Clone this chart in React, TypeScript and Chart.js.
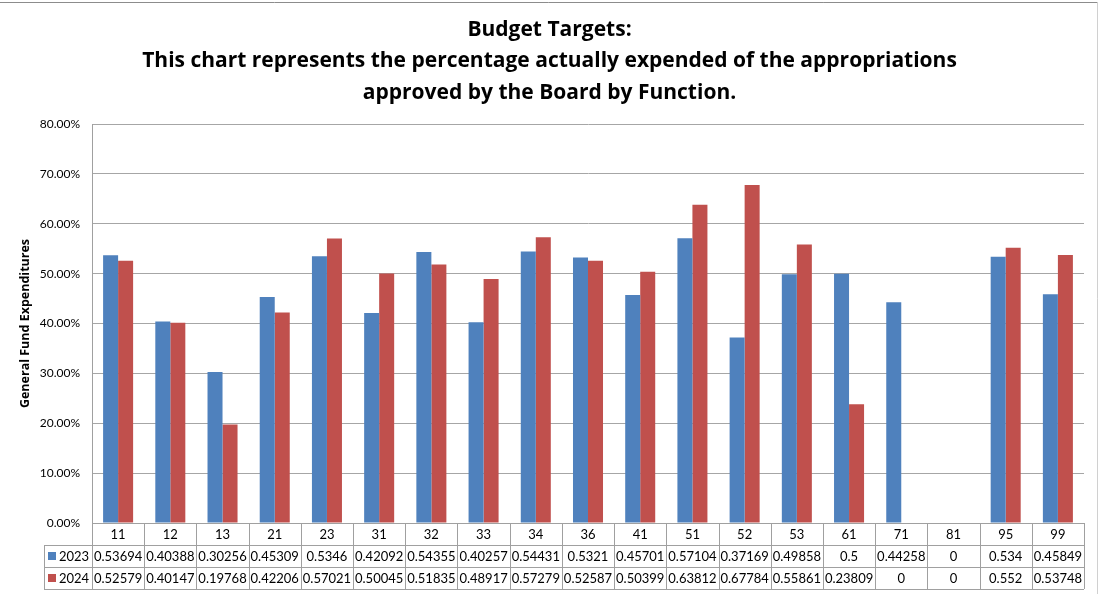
import React, { useEffect, useRef } from "react";
import { Chart, registerables } from "chart.js";

Chart.register(...registerables);

const categories = ["11", "12", "13", "21", "23", "31", "32", "33", "34", "36", "41", "51", "52", "53", "61", "71", "81", "95", "99"];
const values2023 = [0.53694, 0.40388, 0.30256, 0.45309, 0.5346, 0.42092, 0.54355, 0.40257, 0.54431, 0.5321, 0.45701, 0.57104, 0.37169, 0.49858, 0.5, 0.44258, 0, 0.534, 0.45849];
const values2024 = [0.52579, 0.40147, 0.19768, 0.42206, 0.57021, 0.50045, 0.51835, 0.48917, 0.57279, 0.52587, 0.50399, 0.63812, 0.67784, 0.55861, 0.23809, 0, 0, 0.552, 0.53748];
const seriesNames = ["2023", "2024"];
const seriesColors = ["#4F81BD", "#C0504D"];
const titleLines = [
  "Budget Targets:",
  "This chart represents the percentage actually expended of the appropriations",
  "approved by the Board by Function.",
];
const yAxisTitle = "General Fund Expenditures";

const FONT = "Lato, 'Open Sans', 'DejaVu Sans', sans-serif";
const TITLE_FONT = "'Open Sans', Lato, 'DejaVu Sans', sans-serif";

const decorPlugin = {
  id: "decor",
  beforeDraw(chart: any) {
    const { ctx, width } = chart;
    ctx.save();
    ctx.fillStyle = "#ffffff";
    ctx.fillRect(0, 0, chart.width, chart.height);
    // frame
    ctx.strokeStyle = "#8c8c8c";
    ctx.lineWidth = 1;
    ctx.beginPath();
    ctx.moveTo(0, 2.5);
    ctx.lineTo(width - 1.5, 2.5);
    ctx.stroke();
    ctx.strokeStyle = "#d0d0d0";
    ctx.beginPath();
    ctx.moveTo(width - 1.5, 2.5);
    ctx.lineTo(width - 1.5, chart.height);
    ctx.stroke();
    // title
    ctx.fillStyle = "#000000";
    ctx.font = `bold 21px ${TITLE_FONT}`;
    ctx.textAlign = "center";
    ctx.textBaseline = "middle";
    const ys = [30, 61.5, 93];
    titleLines.forEach((t, i) => ctx.fillText(t, width / 2, ys[i]));
    ctx.restore();
  },
  afterDraw(chart: any) {
    const { ctx, chartArea } = chart;
    const n = categories.length;
    const left = chartArea.left;
    const right = chartArea.right;
    const colW = (right - left) / n;
    const top = chartArea.bottom;
    const rowH = 22;
    const headW = 48;
    ctx.save();
    ctx.strokeStyle = "#a0a0a0";
    ctx.lineWidth = 1;
    ctx.beginPath();
    for (let k = 1; k <= 3; k++) {
      const y = Math.round(top + k * rowH) + 0.5;
      ctx.moveTo(left - headW, y);
      ctx.lineTo(right, y);
    }
    for (let i = 0; i <= n; i++) {
      const x = Math.round(left + i * colW) + 0.5;
      ctx.moveTo(x, top);
      ctx.lineTo(x, top + 3 * rowH);
    }
    const hx = Math.round(left - headW) + 0.5;
    ctx.moveTo(hx, top + rowH);
    ctx.lineTo(hx, top + 3 * rowH);
    ctx.stroke();

    ctx.fillStyle = "#000000";
    ctx.font = `13px ${FONT}`;
    ctx.textAlign = "center";
    ctx.textBaseline = "middle";
    const rows = [values2023, values2024];
    for (let i = 0; i < n; i++) {
      const cx = left + (i + 0.5) * colW;
      ctx.fillText(categories[i], cx, top + rowH / 2 + 1);
      rows.forEach((r, k) => {
        ctx.fillText(String(r[i]), cx, top + rowH * (k + 1.5) + 1);
      });
    }
    // legend keys
    seriesNames.forEach((name, k) => {
      const cy = top + rowH * (k + 1.5);
      ctx.fillStyle = seriesColors[k];
      ctx.fillRect(left - headW + 4, cy - 4, 8, 8);
      ctx.fillStyle = "#000000";
      ctx.textAlign = "left";
      ctx.fillText(name, left - headW + 15, cy + 1);
    });

    // y axis title
    ctx.translate(left - 67, (chartArea.top + chartArea.bottom) / 2);
    ctx.rotate(-Math.PI / 2);
    ctx.font = `bold 12.5px ${TITLE_FONT}`;
    ctx.textAlign = "center";
    ctx.fillText(yAxisTitle, 0, 0);
    ctx.restore();
  },
};

export default function App() {
  const ref = useRef<HTMLCanvasElement | null>(null);
  useEffect(() => {
    if (!ref.current) return;
    const chart = new Chart(ref.current, {
      type: "bar",
      data: {
        labels: categories,
        datasets: [
          { label: seriesNames[0], data: values2023, backgroundColor: seriesColors[0], borderWidth: 0 },
          { label: seriesNames[1], data: values2024, backgroundColor: seriesColors[1], borderWidth: 0 },
        ],
      },
      options: {
        responsive: false,
        animation: false,
        layout: { padding: { top: 124, right: 15, bottom: 0, left: 0 } },
        datasets: { bar: { categoryPercentage: 0.575, barPercentage: 1 } },
        plugins: { legend: { display: false }, title: { display: false }, tooltip: { enabled: false } },
        scales: {
          x: {
            grid: { display: false },
            border: { display: true, color: "#a0a0a0" },
            ticks: { display: false },
            afterFit(scale: any) {
              scale.height = 71;
            },
          },
          y: {
            min: 0,
            max: 0.8,
            grid: { color: "#a6a6a6", drawTicks: false },
            border: { display: true, color: "#a0a0a0" },
            ticks: {
              stepSize: 0.1,
              padding: 12,
              color: "#000000",
              font: { family: FONT, size: 12 },
              callback: (v: any) => (Number(v) * 100).toFixed(2) + "%",
            },
            afterFit(scale: any) {
              scale.width = 92;
            },
          },
        },
      },
      plugins: [decorPlugin],
    });
    return () => chart.destroy();
  }, []);
  return (
    <div style={{ position: "absolute", left: 0, top: 0, width: 1099, height: 594 }}>
      <canvas ref={ref} width={1099} height={594} style={{ width: 1099, height: 594, display: "block" }} />
    </div>
  );
}
